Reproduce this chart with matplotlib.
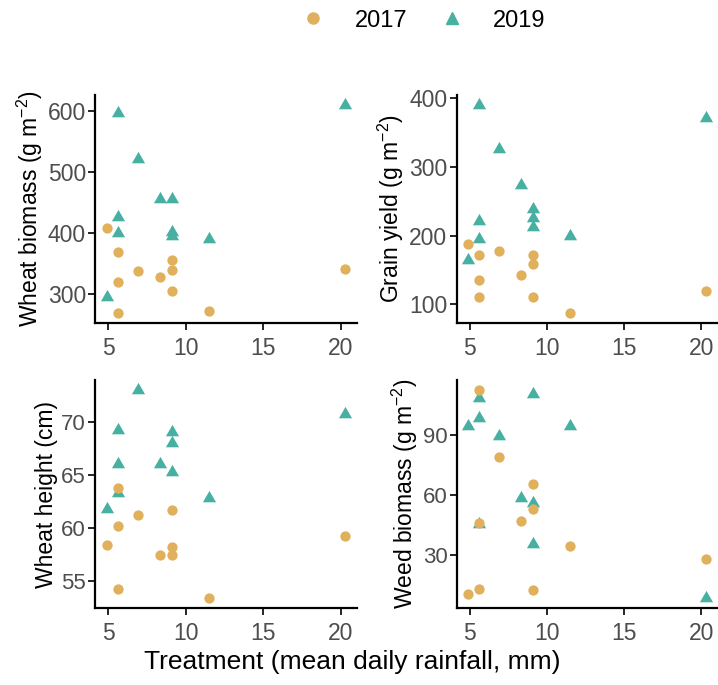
import matplotlib
matplotlib.use('Agg')
import matplotlib.pyplot as plt
from matplotlib.lines import Line2D

plt.rcParams['font.family'] = ['Liberation Sans', 'DejaVu Sans']
plt.rcParams['mathtext.fontset'] = 'custom'
plt.rcParams['mathtext.rm'] = 'Liberation Sans'
plt.rcParams['mathtext.it'] = 'Liberation Sans:italic'

# treatment: mean daily rainfall (mm), same plots for both years
rain = [4.9, 5.6, 5.6, 5.6, 6.9, 8.3, 9.1, 9.1, 9.1, 11.5, 20.3]

wheat_biomass_2017 = [408, 370, 321, 270, 339, 329, 357, 340, 305, 273, 342]
wheat_biomass_2019 = [295, 597, 427, 400, 522, 456, 456, 402, 395, 390, 610]
grain_2017 = [188, 171, 136, 110, 177, 143, 172, 159, 110, 88, 119]
grain_2019 = [165, 389, 221, 195, 326, 273, 239, 226, 212, 199, 371]
height_2017 = [58.4, 63.75, 60.2, 54.2, 61.25, 57.4, 61.7, 58.2, 57.4, 53.4, 59.2]
height_2019 = [61.8, 69.3, 66.0, 63.3, 73.0, 66.0, 69.1, 68.0, 65.3, 62.8, 70.8]
weed_2017 = [10.2, 112.5, 45.8, 13, 79.2, 47.2, 65.5, 53, 12.2, 34.3, 27.8]
weed_2019 = [94.7, 108.5, 98.5, 45.5, 89.7, 58.3, 110.5, 55.8, 35.2, 94.7, 8.5]

ylabels = ['Wheat biomass (g m$^{-2}$)', 'Grain yield (g m$^{-2}$)',
           'Wheat height (cm)', 'Weed biomass (g m$^{-2}$)']
yticks = [[300, 400, 500, 600], [100, 200, 300, 400], [55, 60, 65, 70], [30, 60, 90]]
xticks = [5, 10, 15, 20]

col17 = '#E0B05C'
col19 = '#47B0A3'
tri = [(0, 1), (-0.866, -0.5), (0.866, -0.5)]

fig = plt.figure(figsize=(7.18, 6.85), dpi=100)
pos = [[0.1323, 0.5285, 0.365, 0.3328], [0.6358, 0.5285, 0.3642, 0.3328],
       [0.1323, 0.1124, 0.365, 0.3328], [0.6358, 0.1124, 0.3642, 0.3328]]
data = [(wheat_biomass_2017, wheat_biomass_2019), (grain_2017, grain_2019),
        (height_2017, height_2019), (weed_2017, weed_2019)]

for i in range(4):
    ax = fig.add_axes(pos[i])
    y17, y19 = data[i]
    ax.scatter(rain, y19, marker=tri, s=120, color=col19, linewidths=0, zorder=3)
    ax.scatter(rain, y17, marker='o', s=55, color=col17, linewidths=0, zorder=3)
    ax.set_xticks(xticks)
    ax.set_yticks(yticks[i])
    ax.set_xlim(4.13, 21.07)
    for s in ['top', 'right']:
        ax.spines[s].set_visible(False)
    for s in ['left', 'bottom']:
        ax.spines[s].set_linewidth(1.6)
    ax.tick_params(direction='out', length=5, width=1.2, colors='black',
                   labelcolor='#4D4D4D')
    ax.tick_params(axis='x', labelsize=16.5, pad=5)
    ax.tick_params(axis='y', labelsize=16.5 if i < 2 else 16, pad=1.5)
    ax.set_ylabel(ylabels[i], fontsize=16.5, color='black', labelpad=2)

fig.text(0.49, 0.033, 'Treatment (mean daily rainfall, mm)', ha='center',
         va='center', fontsize=19)

handles = [Line2D([], [], marker='o', ls='none', color=col17, markersize=8),
           Line2D([], [], marker='^', ls='none', color=col19, markersize=9)]
fig.legend(handles, ['2017', '2019'], loc='center', bbox_to_anchor=(0.59, 0.97),
           ncol=2, frameon=False, fontsize=17, handlelength=1,
           handletextpad=1.25, columnspacing=1.4)

fig.savefig('out.png', dpi=100)
